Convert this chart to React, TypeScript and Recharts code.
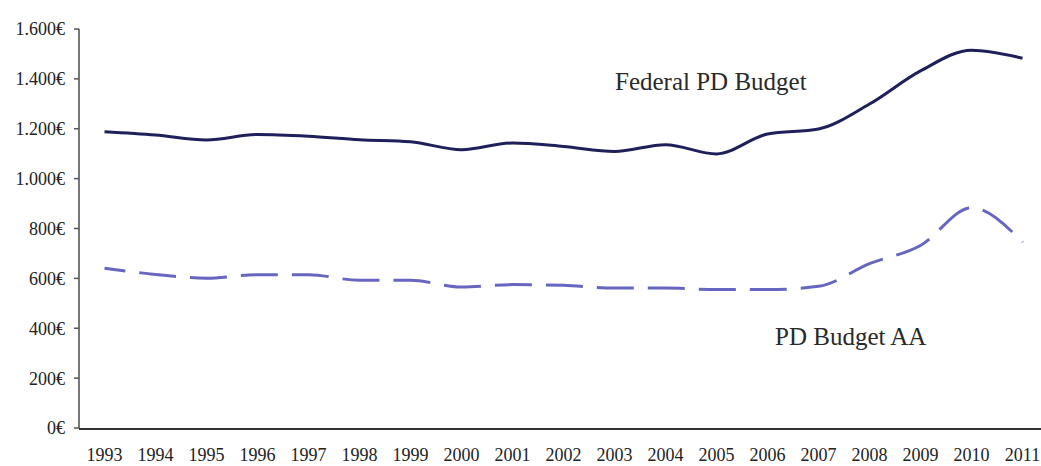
import React from 'react';
import { LineChart, Line, XAxis, YAxis } from 'recharts';

const years = [1993, 1994, 1995, 1996, 1997, 1998, 1999, 2000, 2001, 2002, 2003, 2004, 2005, 2006, 2007, 2008, 2009, 2010, 2011];
const federalBudget = [1188, 1175, 1155, 1177, 1170, 1156, 1148, 1116, 1143, 1129, 1109, 1136, 1099, 1179, 1199, 1299, 1432, 1515, 1483];
const budgetAA = [641, 616, 601, 615, 615, 592, 592, 565, 575, 572, 561, 561, 555, 555, 568, 659, 732, 883, 745];
const yTicks = [0, 200, 400, 600, 800, 1000, 1200, 1400, 1600];
const seriesLabels = ['Federal PD Budget', 'PD Budget AA'];

const data = years.map((y, i) => ({ year: y, federal: federalBudget[i], aa: budgetAA[i] }));
const boundaryTicks = years.slice(0, -1).map((y) => y + 0.5);
const xDomain: [number, number] = [years[0] - 0.5, years[years.length - 1] + 0.5];

const fmtEuro = (v: number) => {
  if (v >= 1000) {
    const th = Math.floor(v / 1000);
    const rest = String(v % 1000).padStart(3, '0');
    return `${th}.${rest}€`;
  }
  return `${v}€`;
};

const FONT = '"Liberation Serif", "DejaVu Serif", serif';

export default function App() {
  return (
    <div style={{ position: 'absolute', left: 0, top: 0, width: 1041, height: 466, overflow: 'hidden', background: '#fff' }}>
      <LineChart width={1060} height={466} data={data} margin={{ top: 29, right: 12, bottom: 36, left: 0 }}>
        <XAxis
          xAxisId="marks"
          dataKey="year"
          type="number"
          domain={xDomain}
          ticks={boundaryTicks}
          interval={0}
          tick={false}
          tickLine={{ stroke: '#333', strokeWidth: 1.5 }}
          tickSize={4}
          axisLine={{ stroke: '#333', strokeWidth: 2 }}
          height={1}
          allowDataOverflow
        />
        <XAxis
          xAxisId="labels"
          dataKey="year"
          type="number"
          domain={xDomain}
          ticks={years}
          interval={0}
          tickLine={false}
          tickSize={0}
          tickMargin={20}
          axisLine={false}
          tick={{ fill: '#222', fontSize: 18, fontFamily: FONT }}
          height={1}
          allowDataOverflow
        />
        <YAxis
          domain={[0, 1600]}
          ticks={yTicks}
          interval={0}
          tickFormatter={fmtEuro}
          width={79}
          tickSize={5}
          tickMargin={9}
          tickLine={{ stroke: '#555', strokeWidth: 1.5 }}
          axisLine={{ stroke: '#777', strokeWidth: 2 }}
          tick={{ fill: '#222', fontSize: 18, fontFamily: FONT }}
        />
        <Line
          xAxisId="marks"
          type="monotone"
          dataKey="federal"
          stroke="#1f1f5c"
          strokeWidth={3}
          dot={false}
          activeDot={false}
          isAnimationActive={false}
        />
        <Line
          xAxisId="marks"
          type="monotone"
          dataKey="aa"
          stroke="#6666c0"
          strokeWidth={3}
          strokeDasharray="37 14"
          strokeDashoffset={16}
          dot={false}
          activeDot={false}
          isAnimationActive={false}
        />
      </LineChart>
      <svg width={1041} height={466} style={{ position: 'absolute', left: 0, top: 0, pointerEvents: 'none' }}>
        <text x={615} y={90} fontSize={25} fontFamily={FONT} fill="#2a2a2a">{seriesLabels[0]}</text>
        <text x={775} y={345} fontSize={25} fontFamily={FONT} fill="#2a2a2a">{seriesLabels[1]}</text>
      </svg>
    </div>
  );
}
